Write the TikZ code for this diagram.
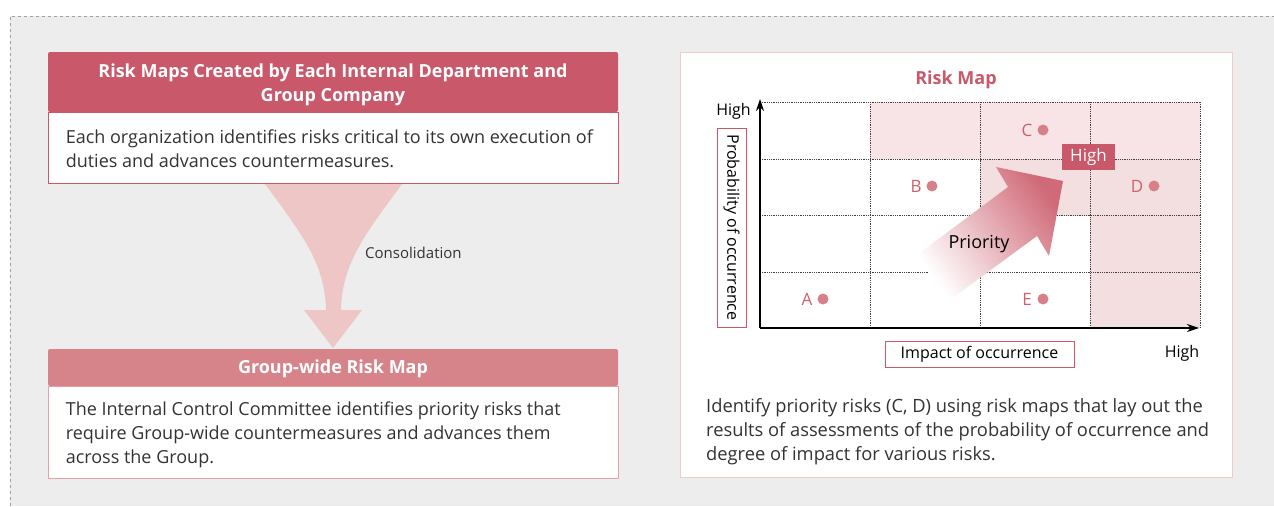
\documentclass[tikz,border=0pt]{standalone}
\usepackage{fontspec}
\setmainfont{Open Sans}
\usetikzlibrary{arrows.meta}
\definecolor{bggray}{HTML}{EDEDED}
\definecolor{dashgray}{HTML}{A0A0A0}
\definecolor{hdrdark}{HTML}{C8586A}
\definecolor{hdrlight}{HTML}{D6848A}
\definecolor{boxlight}{HTML}{E2A2A8}
\definecolor{funnel}{HTML}{EEC6C6}
\definecolor{panelborder}{HTML}{F0CCC8}
\definecolor{cellA}{HTML}{F8E4E7}
\definecolor{cellB}{HTML}{F3DFDF}
\definecolor{ptred}{HTML}{D0606E}
\definecolor{dotred}{HTML}{D8808A}
\definecolor{arrowpink}{HTML}{D06A78}
\definecolor{txtgray}{HTML}{333333}
\tikzset{
  hdr/.style={inner sep=0pt, minimum width=570pt, rounded corners=2pt},
  hdrtxt/.style={text=white, font=\bfseries\fontsize{18}{24}\selectfont, align=center, inner sep=0pt},
  bodybox/.style={fill=white, inner sep=0pt, minimum width=570pt},
  bodytxt/.style={text=txtgray, font=\fontsize{18}{24}\selectfont, align=left, inner sep=0pt, anchor=west},
  ptlbl/.style={text=ptred, font=\fontsize{17}{20}\selectfont, inner sep=0pt},
  ptdot/.style={circle, fill=dotred, minimum size=11pt, inner sep=0pt},
  gridline/.style={densely dotted, line width=0.8pt, draw=black!75},
  axis/.style={line width=1.2pt, -{Stealth[length=12pt,width=8pt]}},
  lblbox/.style={draw=hdrdark, line width=0.8pt, fill=white, inner sep=0pt, text=black, font=\fontsize{16}{18}\selectfont},
  plain/.style={text=black, font=\fontsize{16}{18}\selectfont, inner sep=0pt}
}
\begin{document}
\begin{tikzpicture}[x=1pt,y=-1pt]
\useasboundingbox (0,0) rectangle (1274,506);
\fill[white] (0,0) rectangle (1274,506);
\fill[bggray] (10,16) rectangle (1274,506);
\draw[dashgray, dashed, line width=0.8pt] (10,506) -- (10,16) -- (1274,16);

% ---------- left column ----------
\node[bodybox, draw=hdrdark, line width=0.8pt, minimum height=71pt, anchor=north] (b1) at (333,112) {};
\node[bodytxt] (t1) at ([xshift=18pt,yshift=-1pt]b1.west)
  {Each organization identifies risks critical to its own execution of\\duties and advances countermeasures.};
\node[hdr, fill=hdrdark, minimum height=60pt] (h1) at (333,82) {};
\node[hdrtxt] (ht1) at ([yshift=-3pt]h1.center)
  {Risk Maps Created by Each Internal Department and\\Group Company};

% funnel arrow (consolidation)
\fill[funnel] (265,184) .. controls (300,232) and (325,262) .. (326,310)
  -- (304,310) -- (333,348) -- (362,310) -- (341,310)
  .. controls (342,262) and (367,232) .. (402,184) -- cycle;
\node[anchor=west, text=txtgray, font=\fontsize{15}{18}\selectfont, inner sep=0pt] (cons) at (365,253) {Consolidation};

\node[bodybox, draw=boxlight, line width=0.8pt, minimum height=92pt, anchor=north] (b2) at (333,386) {};
\node[bodytxt] (t2) at ([xshift=18pt,yshift=-2pt]b2.west)
  {The Internal Control Committee identifies priority risks that\\require Group-wide countermeasures and advances them\\across the Group.};
\node[hdr, fill=hdrlight, minimum height=37pt] (h2) at (333,367.5) {};
\node[hdrtxt] (ht2) at ([yshift=-1.5pt]h2.center) {Group-wide Risk Map};

% ---------- right panel ----------
\node[draw=panelborder, line width=1pt, fill=white, minimum width=552pt, minimum height=425pt, inner sep=0pt] (panel) at (956,264.5) {};
\node[text=hdrdark, font=\bfseries\fontsize{18}{20}\selectfont, inner sep=0pt] (title) at (956,80) {Risk Map};

% shaded cells
\fill[cellA] (870,102) rectangle (1200,159);
\fill[cellB] (980,159) rectangle (1200,215.5);
\fill[cellB] (1090,215.5) rectangle (1200,328);

% grid
\foreach \x in {870,980,1090,1200} \draw[gridline] (\x,102) -- (\x,328);
\foreach \y in {102,159,215.5,272} \draw[gridline] (760,\y) -- (1200,\y);

% axes
\coordinate (org) at (760,328);
\coordinate (ytop) at (760,99);
\coordinate (xend) at (1199,328);
\draw[axis] (org) -- (ytop);
\draw[axis] (org) -- (xend);
\node[plain, anchor=east] (yhigh) at (751,111) {High};
\node[plain] (xhigh) at (1182,353) {High};

\node[lblbox, rotate=-90, minimum width=199pt, minimum height=29pt] (ylab) at (731.5,227.5) {Probability of occurrence};
\node[lblbox, minimum width=189pt, minimum height=26pt] (xlab) at (979.5,354) {Impact of occurrence};

% priority arrow
\shade[top color=arrowpink, bottom color=white, shading angle=-54]
  (917,255) -- (1008,187) -- (996,167) -- (1063,181) -- (1049,256) -- (1037,236) -- (947,302) -- cycle;
\node[text=black, font=\fontsize{18}{20}\selectfont, inner sep=0pt] (prio) at (979,244) {Priority};
\node[fill=hdrdark, text=white, font=\fontsize{17}{20}\selectfont, minimum width=53pt, minimum height=26pt, inner sep=0pt] (hi) at (1088.5,157) {High};

% risk points
\node[ptdot] (dA) at (823,299) {};
\node[ptlbl] (lA) at (807,299) {A};
\node[ptdot] (dB) at (932,186) {};
\node[ptlbl] (lB) at (916,186) {B};
\node[ptdot] (dC) at (1043,130) {};
\node[ptlbl] (lC) at (1027,130) {C};
\node[ptdot] (dD) at (1154,186) {};
\node[ptlbl] (lD) at (1137,186) {D};
\node[ptdot] (dE) at (1043,299) {};
\node[ptlbl] (lE) at (1027,299) {E};

\node[anchor=north west, align=left, inner sep=0pt, text=txtgray, font=\fontsize{18.3}{24}\selectfont] (desc) at (706,398)
  {Identify priority risks (C, D) using risk maps that lay out the\\results of assessments of the probability of occurrence and\\degree of impact for various risks.};
\end{tikzpicture}
\end{document}
